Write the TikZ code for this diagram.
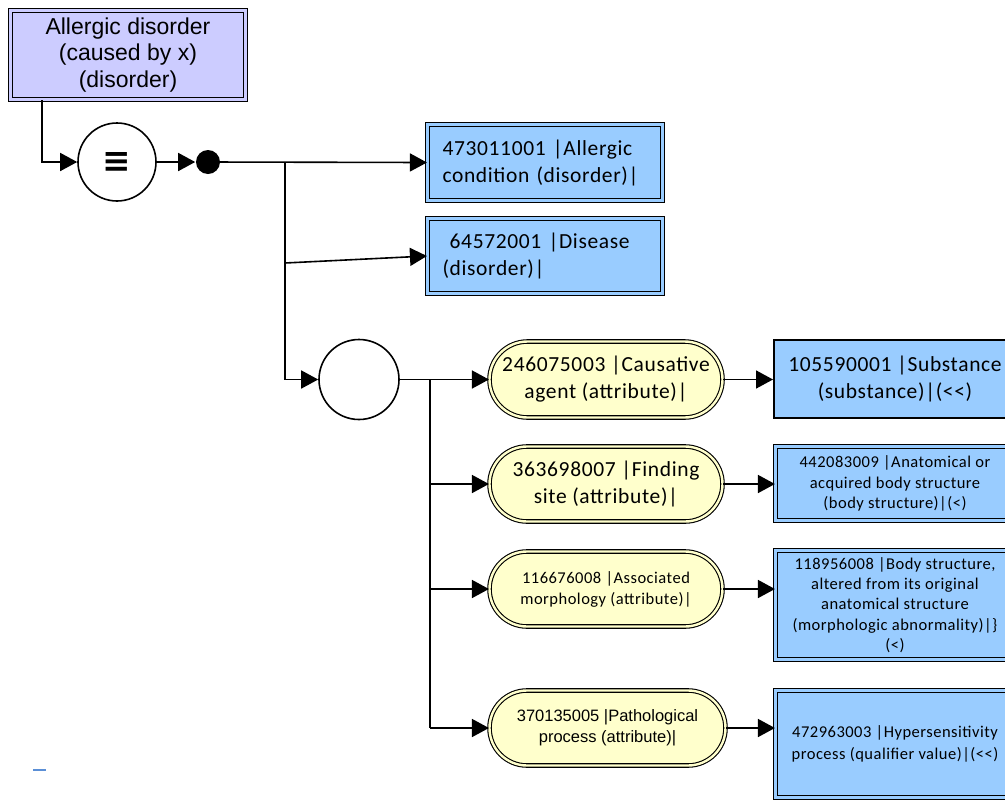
\documentclass[tikz,border=0pt]{standalone}
\usepackage{fontspec}
\setmainfont{Carlito}[LetterSpace=3]
\newfontfamily\arialf{Liberation Sans}
\newfontfamily\dejavuf{DejaVu Sans}
\usetikzlibrary{shapes.misc,arrows.meta}
\definecolor{lav}{HTML}{CCCCFF}
\definecolor{sky}{HTML}{99CCFF}
\definecolor{pale}{HTML}{FFFFCC}
\definecolor{dashblue}{HTML}{5B8FD6}
\begin{document}
\begin{tikzpicture}[x=1pt,y=-1pt,
  line width=1.6pt,
  arr/.style={-{Triangle[length=17pt,width=18pt]}},
  dbl/.style={draw=black, line width=1.1pt, double distance=2.4pt},
  topbox/.style={dbl, double=lav, fill=lav, rectangle, inner sep=0pt, align=center,
     font=\arialf\fontsize{23}{26.5}\selectfont},
  conc/.style={dbl, double=sky, fill=sky, rectangle, inner sep=0pt},
  concone/.style={draw=black, line width=2pt, fill=sky, rectangle, inner sep=0pt},
  attr/.style={dbl, double=pale, fill=pale, rounded rectangle, inner sep=0pt, align=center},
  big/.style={font=\fontsize{21.5}{27}\selectfont},
  small/.style={font=\fontsize{16.5}{21}\selectfont},
  circ/.style={draw=black, line width=1.6pt, circle, fill=white, inner sep=0pt}
]
\useasboundingbox (0,0) rectangle (1005,801);
\clip (0,0) rectangle (1005,801);

% top concept
\node[topbox, minimum width=235pt, minimum height=89pt] (top) at (128,55)
  {Allergic disorder\\(caused by x)\\(disorder)};

% equivalence circle and dot
\node[circ, minimum size=78pt, font=\dejavuf\bfseries\fontsize{34}{34}\selectfont] (eq) at (117,162) {≡};
\node[circle, fill=black, inner sep=0pt, minimum size=24pt] (dot) at (208,162) {};

% parent concepts
\node[conc, minimum width=235pt, minimum height=76pt, text width=205pt, align=left, big] (p1) at (545,162.5)
  {473011001 |Allergic\\condition (disorder)|};
\node[conc, minimum width=235pt, minimum height=75pt, text width=205pt, align=left, big] (p2) at (545,256)
  {\ 64572001 |Disease\\(disorder)|};

% group circle
\node[circ, minimum size=80pt] (grp) at (359,379.5) {};

% attributes
\node[attr, minimum width=233pt, minimum height=76pt, big] (a1) at (606,379.5)
  {246075003 |Causative\\agent (attribute)|};
\node[attr, minimum width=233pt, minimum height=75pt, big] (a2) at (606,484)
  {363698007 |Finding\\site (attribute)|};
\node[attr, minimum width=233pt, minimum height=75pt, small] (a3) at (606,589)
  {116676008 |Associated\\morphology (attribute)|};
\node[attr, minimum width=236pt, minimum height=75pt, font=\arialf\fontsize{16.5}{21.5}\selectfont] (a4) at (607.5,728)
  {370135005 |Pathological\\process (attribute)|};

% values
\node[concone, minimum width=242pt, minimum height=78pt, align=center, big] (v1) at (895,379)
  {105590001 |Substance\\(substance)|(<{}<)};
\node[conc, minimum width=239pt, minimum height=74pt, align=center, font=\fontsize{16.5}{20.5}\selectfont] (v2) at (895,483.5)
  {442083009 |Anatomical or\\acquired body structure\\(body structure)|(<)};
\node[conc, minimum width=239pt, minimum height=109pt, align=center, font=\fontsize{16.5}{20.3}\selectfont] (v3) at (895,605)
  {118956008 |Body structure,\\altered from its original\\anatomical structure\\(morphologic abnormality)|\}\\(<)};
\node[conc, minimum width=239pt, minimum height=107pt, align=center, font=\fontsize{16.5}{22}\selectfont] (v4) at (895,744)
  {472963003 |Hypersensitivity\\process (qualifier value)|(<{}<)};

% junction coordinates
\coordinate (j1) at (285,162);
\coordinate (j1b) at (285,263);
\coordinate (j2) at (285,379.5);
\coordinate (k1) at (430,379.5);
\coordinate (k2) at (430,484);
\coordinate (k3) at (430,589);
\coordinate (k4) at (430,728);

% connectors
\draw[arr] ([xshift=32pt]top.south west) |- (eq.west);
\draw[arr] (eq.east) -- (dot.west);
\draw[arr] (dot.center) -- (p1.west);
\draw (j1) -- (j2);
\draw[arr] (j1b) -- (p2.west);
\draw[arr] (j2) -- (grp.west);
\draw (grp.east) -- (k1);
\draw (k1) -- (k4);
\draw[arr] (k1) -- (a1.west);
\draw[arr] (k2) -- (a2.west);
\draw[arr] (k3) -- (a3.west);
\draw[arr] (k4) -- (a4.west);
\draw[arr] (a1.east) -- (a1.east -| v1.west);
\draw[arr] (a2.east) -- (a2.east -| v2.west);
\draw[arr] (a3.east) -- (a3.east -| v3.west);
\draw[arr] (a4.east) -- (a4.east -| v4.west);

% stray blue dash
\coordinate (d1) at (33,770);
\coordinate (d2) at (46,770);
\draw[dashblue, line width=2.2pt] (d1) -- (d2);
\end{tikzpicture}
\end{document}
